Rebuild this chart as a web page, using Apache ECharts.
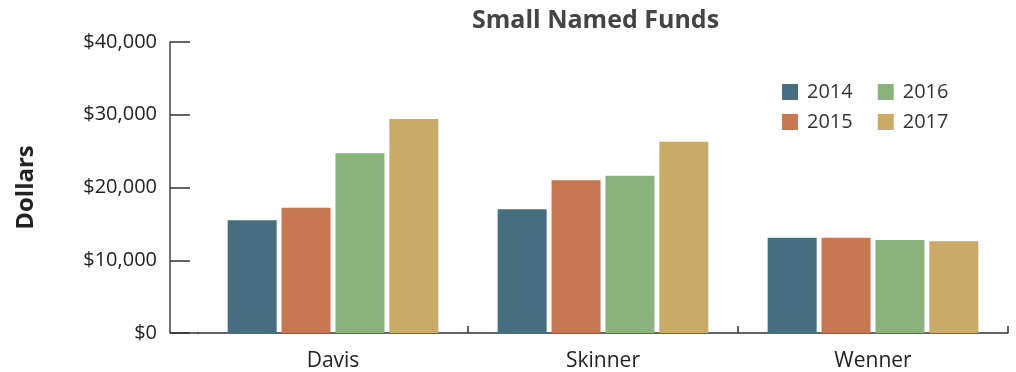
<!DOCTYPE html>
<html><head><meta charset="utf-8">
<script src="https://cdn.jsdelivr.net/npm/echarts@6/dist/echarts.min.js"></script>
<style>html,body{margin:0;padding:0;background:#fff}#c{width:1016px;height:372px}</style>
</head><body><div id="c"></div>
<script>
const categories = ['Davis', 'Skinner', 'Wenner'];
const years = ['2014', '2015', '2016', '2017'];
const v2014 = [15500, 17000, 13100];
const v2015 = [17200, 21000, 13100];
const v2016 = [24700, 21600, 12800];
const v2017 = [29400, 26300, 12600];
const yTicks = [0, 10000, 20000, 30000, 40000];
const colors = ['#466e80', '#c77852', '#89b27d', '#c9aa67'];
const values = [v2014, v2015, v2016, v2017];

const chart = echarts.init(document.getElementById('c'));
const font = 'Open Sans';
const legendText = { fontSize: 20, color: '#333', fontFamily: font, padding: [0, 0, 0, 4] };
chart.setOption({
  animation: false,
  textStyle: { fontFamily: font },
  title: { text: 'Small Named Funds', left: 467, top: 3,
    textStyle: { fontFamily: font, fontWeight: 'bold', fontSize: 25, color: '#444' } },
  legend: [
    { data: ['2014', '2016'], left: 782, top: 82, padding: 0, itemWidth: 16, itemHeight: 16, itemGap: 25,
      textStyle: legendText, icon: 'rect' },
    { data: ['2015', '2017'], left: 782, top: 112, padding: 0, itemWidth: 16, itemHeight: 16, itemGap: 25,
      textStyle: legendText, icon: 'rect' }
  ],
  grid: { left: 198, right: 8, top: 42, bottom: 39, containLabel: false },
  xAxis: {
    type: 'category', data: categories,
    axisLine: { lineStyle: { color: '#333', width: 1.5 } },
    axisTick: { show: true, inside: true, length: 7, lineStyle: { color: '#333', width: 1.5 },
      interval: function (i) { return i !== 0; } },
    axisLabel: { fontSize: 21, color: '#222', margin: 18, fontFamily: font }
  },
  yAxis: {
    type: 'value', min: yTicks[0], max: yTicks[yTicks.length - 1], interval: 10000, offset: 28,
    name: 'Dollars', nameLocation: 'middle', nameGap: 132, nameRotate: 90,
    nameTextStyle: { fontSize: 24, fontWeight: 'bold', color: '#222', fontFamily: font },
    axisLine: { show: true, lineStyle: { color: '#444', width: 1.5 } },
    axisTick: { show: true, inside: true, length: 20, lineStyle: { color: '#333', width: 1.5 } },
    splitLine: { show: false },
    axisLabel: { fontSize: 20, color: '#222', margin: 13, fontFamily: font,
      formatter: v => '$' + v.toLocaleString('en-US') }
  },
  series: years.map((y, i) => ({
    name: y, type: 'bar', data: values[i], barWidth: 49, barGap: '10%',
    itemStyle: { color: colors[i] }
  }))
});
const p0 = chart.convertToPixel({ xAxisIndex: 0, yAxisIndex: 0 }, [0, 0]);
chart.setOption({ graphic: [{ type: 'line', shape: { x1: 170, y1: p0[1], x2: 199, y2: p0[1] },
  style: { stroke: '#333', lineWidth: 1.5 }, z: 10 }] });
</script></body></html>
